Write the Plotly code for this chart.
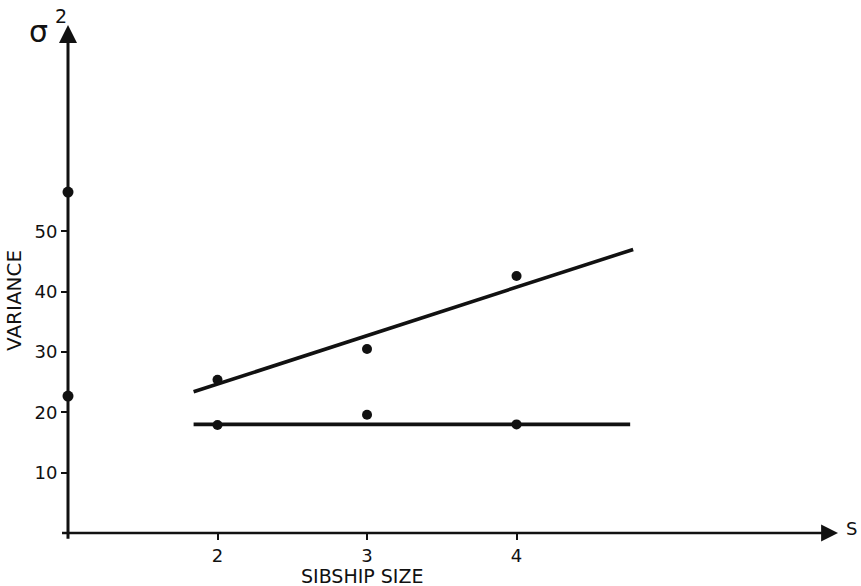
import plotly.graph_objects as go

# Data
axis_points_s = [1, 1]
axis_points_var = [56.5, 22.7]

sibship = [2, 3, 4]
upper_var = [25.4, 30.5, 42.6]
lower_var = [17.9, 19.6, 18.0]

upper_fit_s = [1.84, 4.78]
upper_fit_var = [23.4, 47.0]
lower_fit_s = [1.84, 4.76]
lower_fit_var = [18.0, 18.0]

x_ticks = [2, 3, 4]
y_ticks = [10, 20, 30, 40, 50]

X_MAX = 6.15
Y_MAX = 84.2

FONT = "DejaVu Sans"
INK = "#111111"

W, H = 861, 586
L, R, T, B = 68, 23, 25, 53
pw, ph = W - L - R, H - T - B


def px_to_paper(px, py):
    return (px - L) / pw, (H - B - py) / ph


fig = go.Figure()

fig.add_trace(go.Scatter(x=upper_fit_s, y=upper_fit_var, mode="lines",
                         line=dict(color=INK, width=3.6), cliponaxis=False, showlegend=False))
fig.add_trace(go.Scatter(x=lower_fit_s, y=lower_fit_var, mode="lines",
                         line=dict(color=INK, width=3.6), cliponaxis=False, showlegend=False))
fig.add_trace(go.Scatter(x=sibship, y=upper_var, mode="markers",
                         marker=dict(color=INK, size=10), cliponaxis=False, showlegend=False))
fig.add_trace(go.Scatter(x=sibship, y=lower_var, mode="markers",
                         marker=dict(color=INK, size=10), cliponaxis=False, showlegend=False))
fig.add_trace(go.Scatter(x=axis_points_s, y=axis_points_var, mode="markers",
                         marker=dict(color=INK, size=11), cliponaxis=False, showlegend=False))

# Axis arrows
fig.add_annotation(x=X_MAX, y=0, ax=0.95, ay=0, xref="x", yref="y", axref="x", ayref="y",
                   text="", showarrow=True, arrowhead=2, arrowsize=1.3, arrowwidth=2.6,
                   arrowcolor=INK)
fig.add_annotation(x=1, y=Y_MAX, ax=1, ay=-1.2, xref="x", yref="y", axref="x", ayref="y",
                   text="", showarrow=True, arrowhead=2, arrowsize=1.2, arrowwidth=3,
                   arrowcolor=INK)

# Text labels positioned in pixels
labels = [
    (851, 528, "S", 18, 0),
    (362, 576, "SIBSHIP SIZE", 19, 0),
    (14, 301, "VARIANCE", 20, -90),
    (38, 32, "σ", 30, 0),
    (61, 16, "2", 19, 0),
]
for px, py, txt, sz, ang in labels:
    xp, yp = px_to_paper(px, py)
    fig.add_annotation(x=xp, y=yp, xref="paper", yref="paper", text=txt, showarrow=False,
                       xanchor="center", yanchor="middle", textangle=ang,
                       font=dict(family=FONT, size=sz, color=INK))

fig.update_layout(
    width=W, height=H,
    margin=dict(l=L, r=R, t=T, b=B),
    paper_bgcolor="white", plot_bgcolor="white",
    xaxis=dict(range=[1, X_MAX], tickvals=x_ticks, ticktext=[str(v) for v in x_ticks],
               ticks="outside", ticklen=6, tickwidth=2, tickcolor=INK,
               showgrid=False, zeroline=False, showline=False,
               tickfont=dict(family=FONT, size=18, color=INK)),
    yaxis=dict(range=[0, Y_MAX], tickvals=y_ticks, ticktext=[str(v) for v in y_ticks],
               ticks="outside", ticklen=6, tickwidth=2, tickcolor=INK,
               showgrid=False, zeroline=False, showline=False,
               tickfont=dict(family=FONT, size=18, color=INK)),
)

fig.write_html("out.html")
